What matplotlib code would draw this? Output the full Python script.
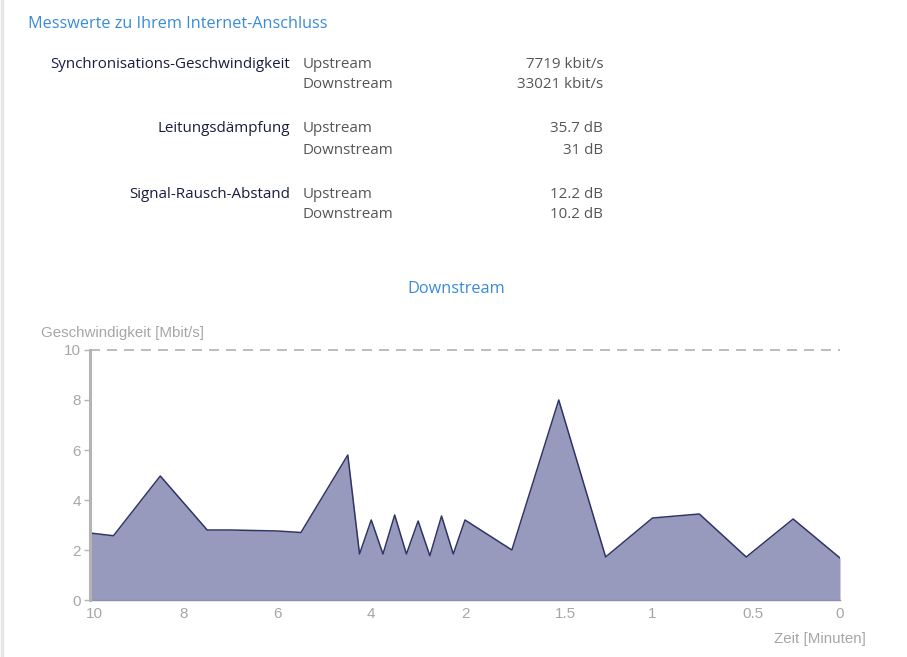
import numpy as np
import matplotlib
matplotlib.use("Agg")
import matplotlib.pyplot as plt
import matplotlib.transforms as mtransforms

# ---------------- data ----------------
title_text = "Messwerte zu Ihrem Internet-Anschluss"
metric_names = ["Synchronisations-Geschwindigkeit", "Leitungsdämpfung", "Signal-Rausch-Abstand"]
directions = ["Upstream", "Downstream"]
metric_values = [["7719 kbit/s", "33021 kbit/s"], ["35.7 dB", "31 dB"], ["12.2 dB", "10.2 dB"]]

chart_title = "Downstream"
y_label = "Geschwindigkeit [Mbit/s]"
x_label = "Zeit [Minuten]"

times = [10, 9.5, 8.5, 7.5, 7.0, 6.0, 5.5, 4.5, 4.25, 4.0, 3.75, 3.5, 3.25, 3.0,
         2.75, 2.5, 2.25, 2.0, 1.75, 1.5, 1.25, 1.0, 0.75, 0.5, 0.25, 0.0]
speeds = [2.68, 2.57, 4.96, 2.80, 2.80, 2.76, 2.70, 5.80, 1.84, 3.20, 1.84, 3.40, 1.84, 3.16,
          1.77, 3.36, 1.84, 3.20, 2.00, 8.00, 1.72, 3.28, 3.44, 1.72, 3.24, 1.68]

x_ticks = [10, 8, 6, 4, 2, 1.5, 1, 0.5, 0]
x_tick_labels = ["10", "8", "6", "4", "2", "1.5", "1", "0.5", "0"]
y_ticks = [0, 2, 4, 6, 8, 10]
y_max = 10

# ---------------- style ----------------
BLUE = "#3a8bd6"
DARK = "#171d40"
GRAY = "#555555"
LGRAY = "#a6a6a6"
FILL = "#979abc"
LINE = "#2f3465"
UI_FONT = ["Open Sans", "DejaVu Sans"]
CH_FONT = ["Liberation Sans", "DejaVu Sans"]

W, H = 907, 657
fig = plt.figure(figsize=(W / 100, H / 100), dpi=100)
fig.patch.set_facecolor("white")

def fx(px):
    return px / W

def fy(py):
    return 1 - py / H

# page border on the left
fig.add_artist(plt.Line2D([fx(2), fx(2)], [0, 1], color="#e6e6e6", lw=2.5))

# header texts
fig.text(fx(28), fy(24), title_text, color=BLUE, fontsize=11.7, family=UI_FONT,
         ha="left", va="center")
row_y = [(64, 85), (129, 151), (194, 215)]
for name, vals, (y1, y2) in zip(metric_names, metric_values, row_y):
    fig.text(fx(290), fy(y1), name, color=DARK, fontsize=10.9, family=UI_FONT,
             ha="right", va="center")
    for d, v, yy in zip(directions, vals, (y1, y2)):
        fig.text(fx(303), fy(yy), d, color=GRAY, fontsize=10.9, family=UI_FONT,
                 ha="left", va="center")
        fig.text(fx(603), fy(yy), v, color=GRAY, fontsize=10.9, family=UI_FONT,
                 ha="right", va="center")

fig.text(fx(456), fy(289), chart_title, color=BLUE, fontsize=11.7, family=UI_FONT,
         ha="center", va="center")

# ---------------- chart ----------------
ax = fig.add_axes([fx(90), fy(600), fx(840) - fx(90), (600 - 350) / H])

# piecewise time axis: 0..2 min in 0.5 steps, 2..10 min in 2 min steps, equal spacing
def fwd(t):
    t = np.asarray(t, dtype=float)
    return np.where(t <= 2, t / 0.5, 4 + (t - 2) / 2.0)

def inv(p):
    p = np.asarray(p, dtype=float)
    return np.where(p <= 4, p * 0.5, 2 + (p - 4) * 2.0)

ax.set_xscale("function", functions=(fwd, inv))
ax.set_xlim(10, 0)
ax.set_ylim(0, y_max)

ax.fill_between(times, 0, speeds, color=FILL, lw=0, zorder=2)
ax.plot(times, speeds, color=LINE, lw=1.1, solid_joinstyle="round", zorder=3)
ax.axhline(y_max, color="#b0b0b0", lw=1.2, ls=(0, (6, 4.2)), zorder=1, clip_on=False)

for s in ["top", "right"]:
    ax.spines[s].set_visible(False)
ax.spines["left"].set_color("#b4b4b4")
ax.spines["left"].set_linewidth(2.2)
ax.spines["left"].set_zorder(4)
ax.spines["bottom"].set_color("#8a8db0")
ax.spines["bottom"].set_linewidth(1.0)

ax.set_yticks(y_ticks)
ax.set_yticklabels([str(v) for v in y_ticks])
ax.tick_params(axis="y", length=4, width=1, color="#b4b4b4", pad=2.5,
               labelsize=11, labelcolor=LGRAY)
for lbl in ax.get_yticklabels():
    lbl.set_family(CH_FONT)

ax.set_xticks([])
ax.minorticks_off()
trans = mtransforms.blended_transform_factory(ax.transData, ax.transAxes)
shift = mtransforms.ScaledTranslation(-4.2 / 100, -13.5 / 100, fig.dpi_scale_trans)
for t, lab in zip(x_ticks, x_tick_labels):
    ax.text(t, 0, lab, transform=trans + shift, ha="left", va="center",
            fontsize=11, color=LGRAY, family=CH_FONT, clip_on=False)

fig.text(fx(41), fy(333), y_label, color=LGRAY, fontsize=10.9, family=CH_FONT,
         ha="left", va="center")
fig.text(fx(866), fy(639), x_label, color=LGRAY, fontsize=10.9, family=CH_FONT,
         ha="right", va="center")

ax.set_facecolor("none")
fig.savefig("out.png", dpi=100, facecolor="white")
